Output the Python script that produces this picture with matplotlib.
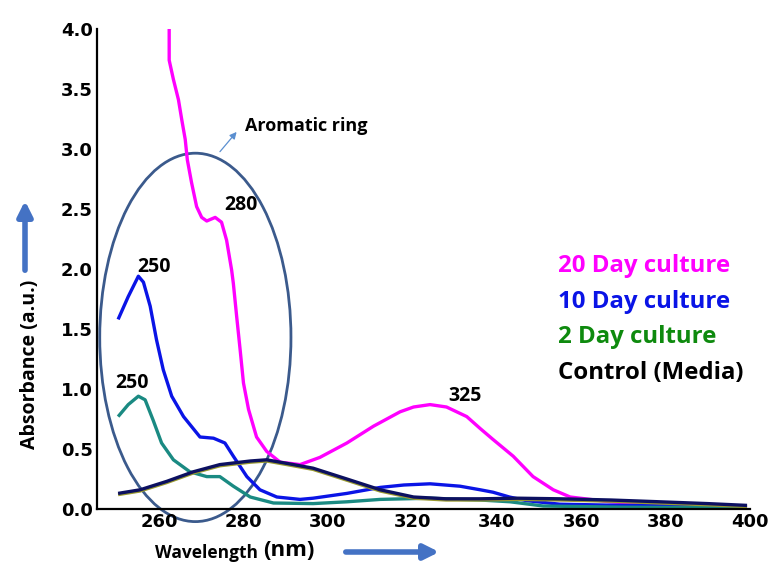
import matplotlib
matplotlib.use("Agg")
import matplotlib.pyplot as plt
from matplotlib.patches import Ellipse, FancyArrowPatch
import matplotlib.transforms as mtransforms

# Absorbance spectra (wavelength in nm, absorbance in a.u.)
wl_20 = [262.4, 262.4, 263.4, 264.6, 265.4, 266.2, 266.7, 267.7, 268.9, 270.1, 271.3,
         273.3, 274.8, 276.0, 277.2, 277.6, 278.4, 279.2, 280.0, 281.2, 283.1, 285.5,
         288.7, 293.4, 298.1, 304.5, 310.8, 317.1, 320.3, 324.2, 328.1, 332.9, 336.1,
         339.1, 343.9, 348.6, 353.4, 357.4, 366.9, 378.7, 399.3]
abs_20 = [4.00, 3.74, 3.58, 3.41, 3.24, 3.08, 2.91, 2.72, 2.52, 2.43, 2.40,
          2.43, 2.39, 2.24, 1.99, 1.88, 1.60, 1.33, 1.05, 0.83, 0.60, 0.48,
          0.39, 0.37, 0.43, 0.55, 0.69, 0.81, 0.85, 0.87, 0.85, 0.77, 0.67,
          0.58, 0.44, 0.27, 0.16, 0.10, 0.06, 0.035, 0.015]

wl_10 = [250.3, 252.7, 255.1, 256.3, 257.9, 259.4, 261.0, 263.0, 265.8, 269.7, 272.9,
         275.6, 277.6, 280.8, 283.9, 287.9, 293.4, 296.5, 304.5, 312.4, 318.0, 324.2,
         331.3, 336.1, 339.1, 343.0, 347.0, 354.9, 370.0, 385.0, 399.3]
abs_10 = [1.58, 1.77, 1.94, 1.89, 1.69, 1.41, 1.16, 0.94, 0.77, 0.60, 0.59,
          0.55, 0.44, 0.27, 0.16, 0.10, 0.08, 0.09, 0.13, 0.18, 0.20, 0.21,
          0.19, 0.16, 0.14, 0.10, 0.07, 0.04, 0.03, 0.025, 0.02]

wl_2 = [250.3, 252.7, 255.1, 256.7, 258.6, 260.6, 263.4, 267.3, 271.3, 274.4, 277.6,
        281.6, 287.1, 296.5, 304.5, 312.4, 324.2, 331.3, 336.1, 343.2, 351.0, 370.0,
        399.3]
abs_2 = [0.77, 0.87, 0.94, 0.91, 0.74, 0.55, 0.41, 0.31, 0.27, 0.27, 0.19,
         0.10, 0.05, 0.045, 0.06, 0.08, 0.09, 0.08, 0.075, 0.06, 0.025, 0.015,
         0.01]

wl_ctrl = [250.3, 255.5, 261.8, 268.1, 274.4, 281.6, 285.5, 290.3, 296.5, 304.5, 312.4,
           320.3, 328.0, 336.0, 345.0, 355.0, 367.0, 378.7, 390.0, 399.3]
abs_ctrl = [0.13, 0.16, 0.23, 0.31, 0.37, 0.40, 0.41, 0.38, 0.34, 0.25, 0.16,
            0.10, 0.085, 0.085, 0.09, 0.085, 0.075, 0.06, 0.045, 0.03]

series_names = ["20 Day culture", "10 Day culture", "2 Day culture", "Control (Media)"]
series_colors = ["#ff00ff", "#0a14e6", "#0e8a0e", "#000000"]

peak_labels = ["280", "250", "250", "325"]
peak_pos = [(279.3, 2.53), (258.8, 2.02), (253.6, 1.05), (332.6, 0.94)]

x_ticks = [260, 280, 300, 320, 340, 360, 380, 400]
y_ticks = [0.0, 0.5, 1.0, 1.5, 2.0, 2.5, 3.0, 3.5, 4.0]

fig = plt.figure(figsize=(7.68, 5.68), dpi=100)
ax = fig.add_axes([97 / 768, 1 - 509 / 568, (750 - 97) / 768, (509 - 29) / 568])

line_kw = dict(lw=2.4, solid_joinstyle="round", solid_capstyle="butt")
ax.plot(wl_20, abs_20, color="#ff00ff", **line_kw)
ax.plot(wl_10, abs_10, color="#0a14e6", **line_kw)
ax.plot(wl_2, abs_2, color="#1a8a82", **line_kw)

# control trace: olive underlay with dark navy line on top
under = mtransforms.offset_copy(ax.transData, fig=fig, x=0, y=-1.2, units="dots")
ax.plot(wl_ctrl, abs_ctrl, color="#9a9a30", transform=under, **line_kw)
ax.plot(wl_ctrl, abs_ctrl, color="#0c1060", **line_kw)

ax.set_xlim(245.3, 400)
ax.set_ylim(0, 4.0)
ax.set_xticks(x_ticks)
ax.set_yticks(y_ticks)
ax.set_yticklabels([f"{v:.1f}" for v in y_ticks])
ax.tick_params(length=0, labelsize=13, pad=3)
for lab in ax.get_xticklabels() + ax.get_yticklabels():
    lab.set_fontweight("bold")
for s in ["top", "right"]:
    ax.spines[s].set_visible(False)
for s in ["left", "bottom"]:
    ax.spines[s].set_linewidth(1.6)
    ax.spines[s].set_color("black")

# peak annotations
for txt, (px, py) in zip(peak_labels, peak_pos):
    ax.text(px, py, txt, ha="center", va="center", fontsize=14,
            fontweight="bold", family="Open Sans")

# aromatic ring region
ell = Ellipse((268.6, 1.43), 45.3, 3.07, facecolor="none", edgecolor="#3b5a8c",
              lw=2, clip_on=False)
ax.add_patch(ell)
ax.annotate("", xy=(278.8, 3.16), xytext=(274.0, 2.96),
            arrowprops=dict(arrowstyle="-|>", color="#5b8fd0", lw=0.9,
                            mutation_scale=10))
ax.text(280.4, 3.19, "Aromatic ring", ha="left", va="center", fontsize=13,
        fontweight="bold", family="Open Sans")

# legend as coloured text
for i, (name, col) in enumerate(zip(series_names, series_colors)):
    fig.text(558 / 768, 1 - (266 + i * 35.5) / 568, name, color=col, fontsize=17.3,
             fontweight="bold", family="Open Sans", ha="left", va="center")

# axis titles
fig.text(30 / 768, 1 - 364 / 568, "Absorbance (a.u.)", rotation=90, fontsize=14,
         fontweight="bold", family="Open Sans", ha="center", va="center")
fig.text(155 / 768, 1 - 553 / 568, "Wavelength", fontsize=12.5, fontweight="bold",
         family="Open Sans", ha="left", va="center")
fig.text(263 / 768, 1 - 551 / 568, "(nm)", fontsize=16, fontweight="bold",
         family="Open Sans", ha="left", va="center")

# direction arrows
fig.patches.append(FancyArrowPatch((25 / 768, 1 - 273 / 568), (25 / 768, 1 - 198 / 568),
                                   transform=fig.transFigure, arrowstyle="-|>",
                                   mutation_scale=22, lw=4, color="#4472c4"))
fig.patches.append(FancyArrowPatch((343 / 768, 1 - 552 / 568), (442 / 768, 1 - 552 / 568),
                                   transform=fig.transFigure, arrowstyle="-|>",
                                   mutation_scale=22, lw=4, color="#4472c4"))

fig.savefig("out.png", dpi=100)
